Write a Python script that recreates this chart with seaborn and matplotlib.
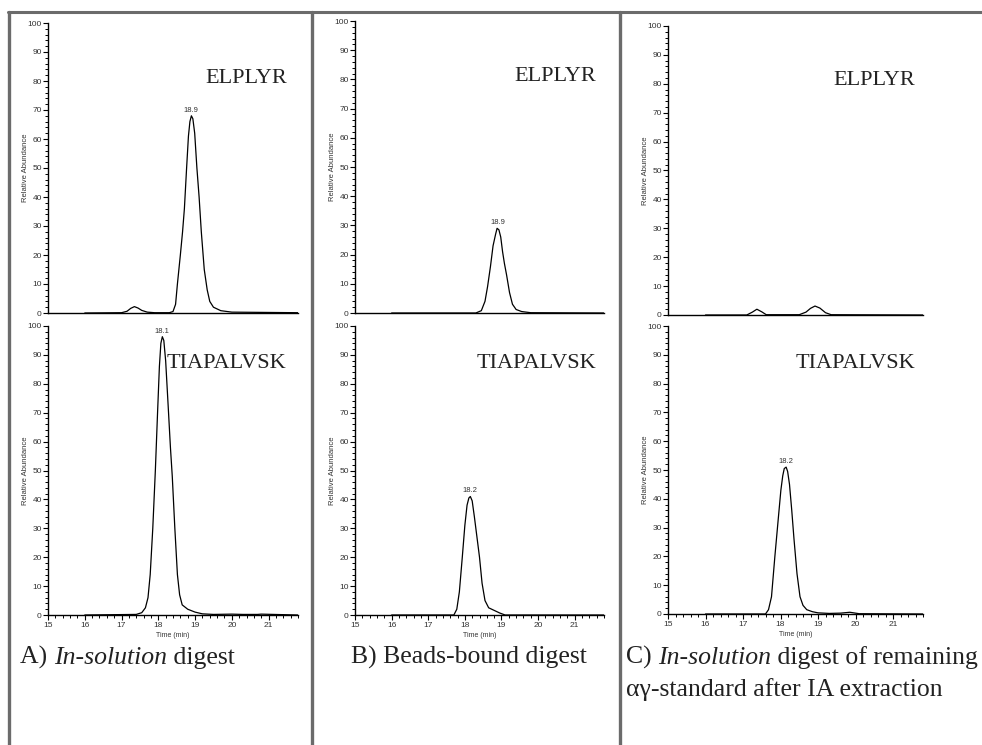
import matplotlib
matplotlib.use("Agg")
import matplotlib.pyplot as plt
from matplotlib.ticker import MultipleLocator
from matplotlib.lines import Line2D
import seaborn as sns
import pandas as pd

# ---------------- data ----------------
# Panel A, ELPLYR
a_top_t = [16.0, 17.0, 17.15, 17.25, 17.35, 17.45, 17.55, 17.7, 17.9, 18.3, 18.4, 18.47, 18.52, 18.6,
           18.66, 18.71, 18.77, 18.82, 18.86, 18.9, 18.94, 18.99, 19.05, 19.11, 19.17, 19.25, 19.33,
           19.4, 19.5, 19.7, 20.0, 21.8]
a_top_y = [0.0, 0.1, 0.6, 1.6, 2.2, 1.7, 0.9, 0.3, 0.1, 0.1, 0.5, 3, 10, 20,
           28, 36, 50, 61, 66, 68, 67, 62, 50, 40, 28, 15, 8,
           4, 2, 0.8, 0.3, 0.1]
# Panel A, TIAPALVSK
a_bot_t = [16.0, 17.4, 17.55, 17.65, 17.72, 17.78, 17.85, 17.92, 17.98, 18.03, 18.07, 18.11, 18.15,
           18.2, 18.27, 18.33, 18.38, 18.45, 18.52, 18.58, 18.65, 18.8, 19.0, 19.2, 19.5, 20.0, 20.3,
           20.7, 20.8, 21.8]
a_bot_y = [0.0, 0.2, 0.8, 2.5, 6, 14, 30, 50, 70, 86, 94, 96.3, 95,
           88, 72, 58, 48, 30, 14, 7, 3.5, 2, 1, 0.4, 0.2, 0.3, 0.2,
           0.2, 0.3, 0.0]
# Panel B, ELPLYR
b_top_t = [16.0, 18.3, 18.45, 18.55, 18.62, 18.7, 18.77, 18.84, 18.88, 18.93, 18.98, 19.03, 19.08,
           19.14, 19.22, 19.3, 19.4, 19.55, 19.8, 21.8]
b_top_y = [0.0, 0.0, 0.8, 4, 9, 16, 23, 27, 29, 28.5, 26, 21, 17,
           13, 7, 3, 1.2, 0.5, 0.1, 0.0]
# Panel B, TIAPALVSK
b_bot_t = [16.0, 17.7, 17.78, 17.85, 17.93, 18.0, 18.06, 18.11, 18.15, 18.2, 18.26, 18.33, 18.4,
           18.47, 18.55, 18.65, 18.8, 18.95, 19.1, 21.8]
b_bot_y = [0.0, 0.0, 2, 8, 20, 31, 38, 40.5, 41, 39.5, 34, 27, 20,
           11, 5, 2.5, 1.6, 0.7, 0.0, 0.0]
# Panel C, ELPLYR
c_top_t = [16.0, 17.1, 17.25, 17.37, 17.5, 17.62, 18.5, 18.68, 18.8, 18.92, 19.05, 19.2, 19.35, 21.8]
c_top_y = [0.0, 0.0, 1.0, 2.0, 1.1, 0.1, 0.1, 1.0, 2.3, 3.1, 2.4, 0.8, 0.1, 0.0]
# Panel C, TIAPALVSK
c_bot_t = [16.0, 17.6, 17.68, 17.76, 17.85, 17.94, 18.01, 18.06, 18.1, 18.15, 18.19, 18.24, 18.3,
           18.36, 18.44, 18.52, 18.6, 18.7, 18.85, 19.0, 19.3, 19.6, 19.85, 20.1, 21.8]
c_bot_y = [0.0, 0.0, 1.5, 6, 20, 33, 43, 48, 50.5, 51, 49.5, 45, 36,
           26, 14, 6, 3, 1.5, 0.8, 0.4, 0.2, 0.3, 0.6, 0.1, 0.0]

peptides = ["ELPLYR", "TIAPALVSK"]
peak_labels_top = ["18.9", "18.9", None]
peak_labels_bot = ["18.1", "18.2", "18.2"]
peak_pos_top = [(18.9, 68), (18.9, 29), None]
peak_pos_bot = [(18.11, 96.3), (18.15, 41), (18.15, 51)]
x_ticks = [15, 16, 17, 18, 19, 20, 21]
y_ticks = [0, 10, 20, 30, 40, 50, 60, 70, 80, 90, 100]

traces_top = [(a_top_t, a_top_y), (b_top_t, b_top_y), (c_top_t, c_top_y)]
traces_bot = [(a_bot_t, a_bot_y), (b_bot_t, b_bot_y), (c_bot_t, c_bot_y)]

# ---------------- figure ----------------
sns.set_style("ticks")
plt.rcParams["font.family"] = ["Liberation Sans", "DejaVu Sans"]

W, H = 982, 745
fig = plt.figure(figsize=(W / 100, H / 100), dpi=100)

def fx(px):
    return px / W

def fy(py):
    return 1 - py / H

# axes boxes in pixels: (x0, x1, ytop, ybottom)
top_boxes = [(48, 298, 23, 313), (355, 604, 21, 313), (668, 923, 26, 315)]
bot_boxes = [(48, 298, 326, 615), (355, 604, 326, 615), (668, 923, 326, 614)]

tick_col = "#333333"

def style_axes(ax, show_x):
    ax.set_xlim(15, 21.8)
    ax.set_ylim(0, 100)
    for s in ["top", "right"]:
        ax.spines[s].set_visible(False)
    for s in ["left", "bottom"]:
        ax.spines[s].set_linewidth(1.0)
        ax.spines[s].set_color("black")
    ax.set_yticks(y_ticks)
    ax.yaxis.set_minor_locator(MultipleLocator(2))
    ax.tick_params(axis="y", which="major", length=3.5, width=0.8, labelsize=6, pad=1,
                   labelcolor=tick_col, color="black")
    ax.tick_params(axis="y", which="minor", length=2.2, width=0.7, color="black")
    ax.set_ylabel("Relative Abundance", fontsize=5.5, labelpad=-1, color=tick_col)
    if show_x:
        ax.set_xticks(x_ticks)
        ax.xaxis.set_minor_locator(MultipleLocator(0.2))
        ax.tick_params(axis="x", which="major", length=3.5, width=0.8, labelsize=6, pad=1.5,
                       labelcolor=tick_col, color="black")
        ax.tick_params(axis="x", which="minor", length=2.5, width=0.7, color="black")
        ax.set_xlabel("Time (min)", fontsize=5, labelpad=2, color=tick_col)
    else:
        ax.tick_params(axis="x", which="both", bottom=False, labelbottom=False)
        ax.set_xlabel("")

serif = ["Liberation Serif", "DejaVu Serif"]

for i in range(3):
    for row, (boxes, traces, plabels, ppos) in enumerate(
            [(top_boxes, traces_top, peak_labels_top, peak_pos_top),
             (bot_boxes, traces_bot, peak_labels_bot, peak_pos_bot)]):
        x0, x1, yt, yb = boxes[i]
        ax = fig.add_axes([fx(x0), fy(yb), fx(x1 - x0), (yb - yt) / H])
        t, y = traces[i]
        df = pd.DataFrame({"t": t, "y": y})
        sns.lineplot(data=df, x="t", y="y", ax=ax, color="black", linewidth=0.9,
                     estimator=None, sort=False)
        style_axes(ax, show_x=(row == 1))
        if plabels[i] is not None:
            px, py = ppos[i]
            ax.annotate(plabels[i], xy=(px, py), xytext=(0, 1.5), textcoords="offset points",
                        ha="center", va="bottom", fontsize=5.5, color=tick_col)
        ax.text(0.97 if i > 0 else 0.955, 0.81 if row == 0 else 0.87, peptides[row],
                transform=ax.transAxes, ha="right", va="center", fontsize=16,
                family=serif, color="#222222")

# frame lines
frame_col = "#6b6b6b"
fig.add_artist(Line2D([fx(8), 1.0], [fy(12), fy(12)], color=frame_col, lw=2.2))
for xp in [9, 312, 620]:
    fig.add_artist(Line2D([fx(xp), fx(xp)], [fy(12), 0.0], color=frame_col, lw=2.4))

# captions with mixed italic
renderer = fig.canvas.get_renderer()
cap_size = 18.5

def caption(xpix, ypix, pieces):
    x = xpix
    for txt, italic in pieces:
        t = fig.text(fx(x), fy(ypix), txt, fontsize=cap_size, family=serif,
                     style="italic" if italic else "normal", ha="left", va="baseline",
                     color="#222222")
        bb = t.get_window_extent(renderer=renderer)
        x += bb.width

caption(20, 664, [("A) ", False), ("In-solution", True), (" digest", False)])
caption(351, 664, [("B) Beads-bound digest", False)])
caption(626, 664, [("C) ", False), ("In-solution", True), (" digest of remaining", False)])
caption(626, 696, [("αγ-standard after IA extraction", False)])

fig.savefig("out.png", dpi=100)
